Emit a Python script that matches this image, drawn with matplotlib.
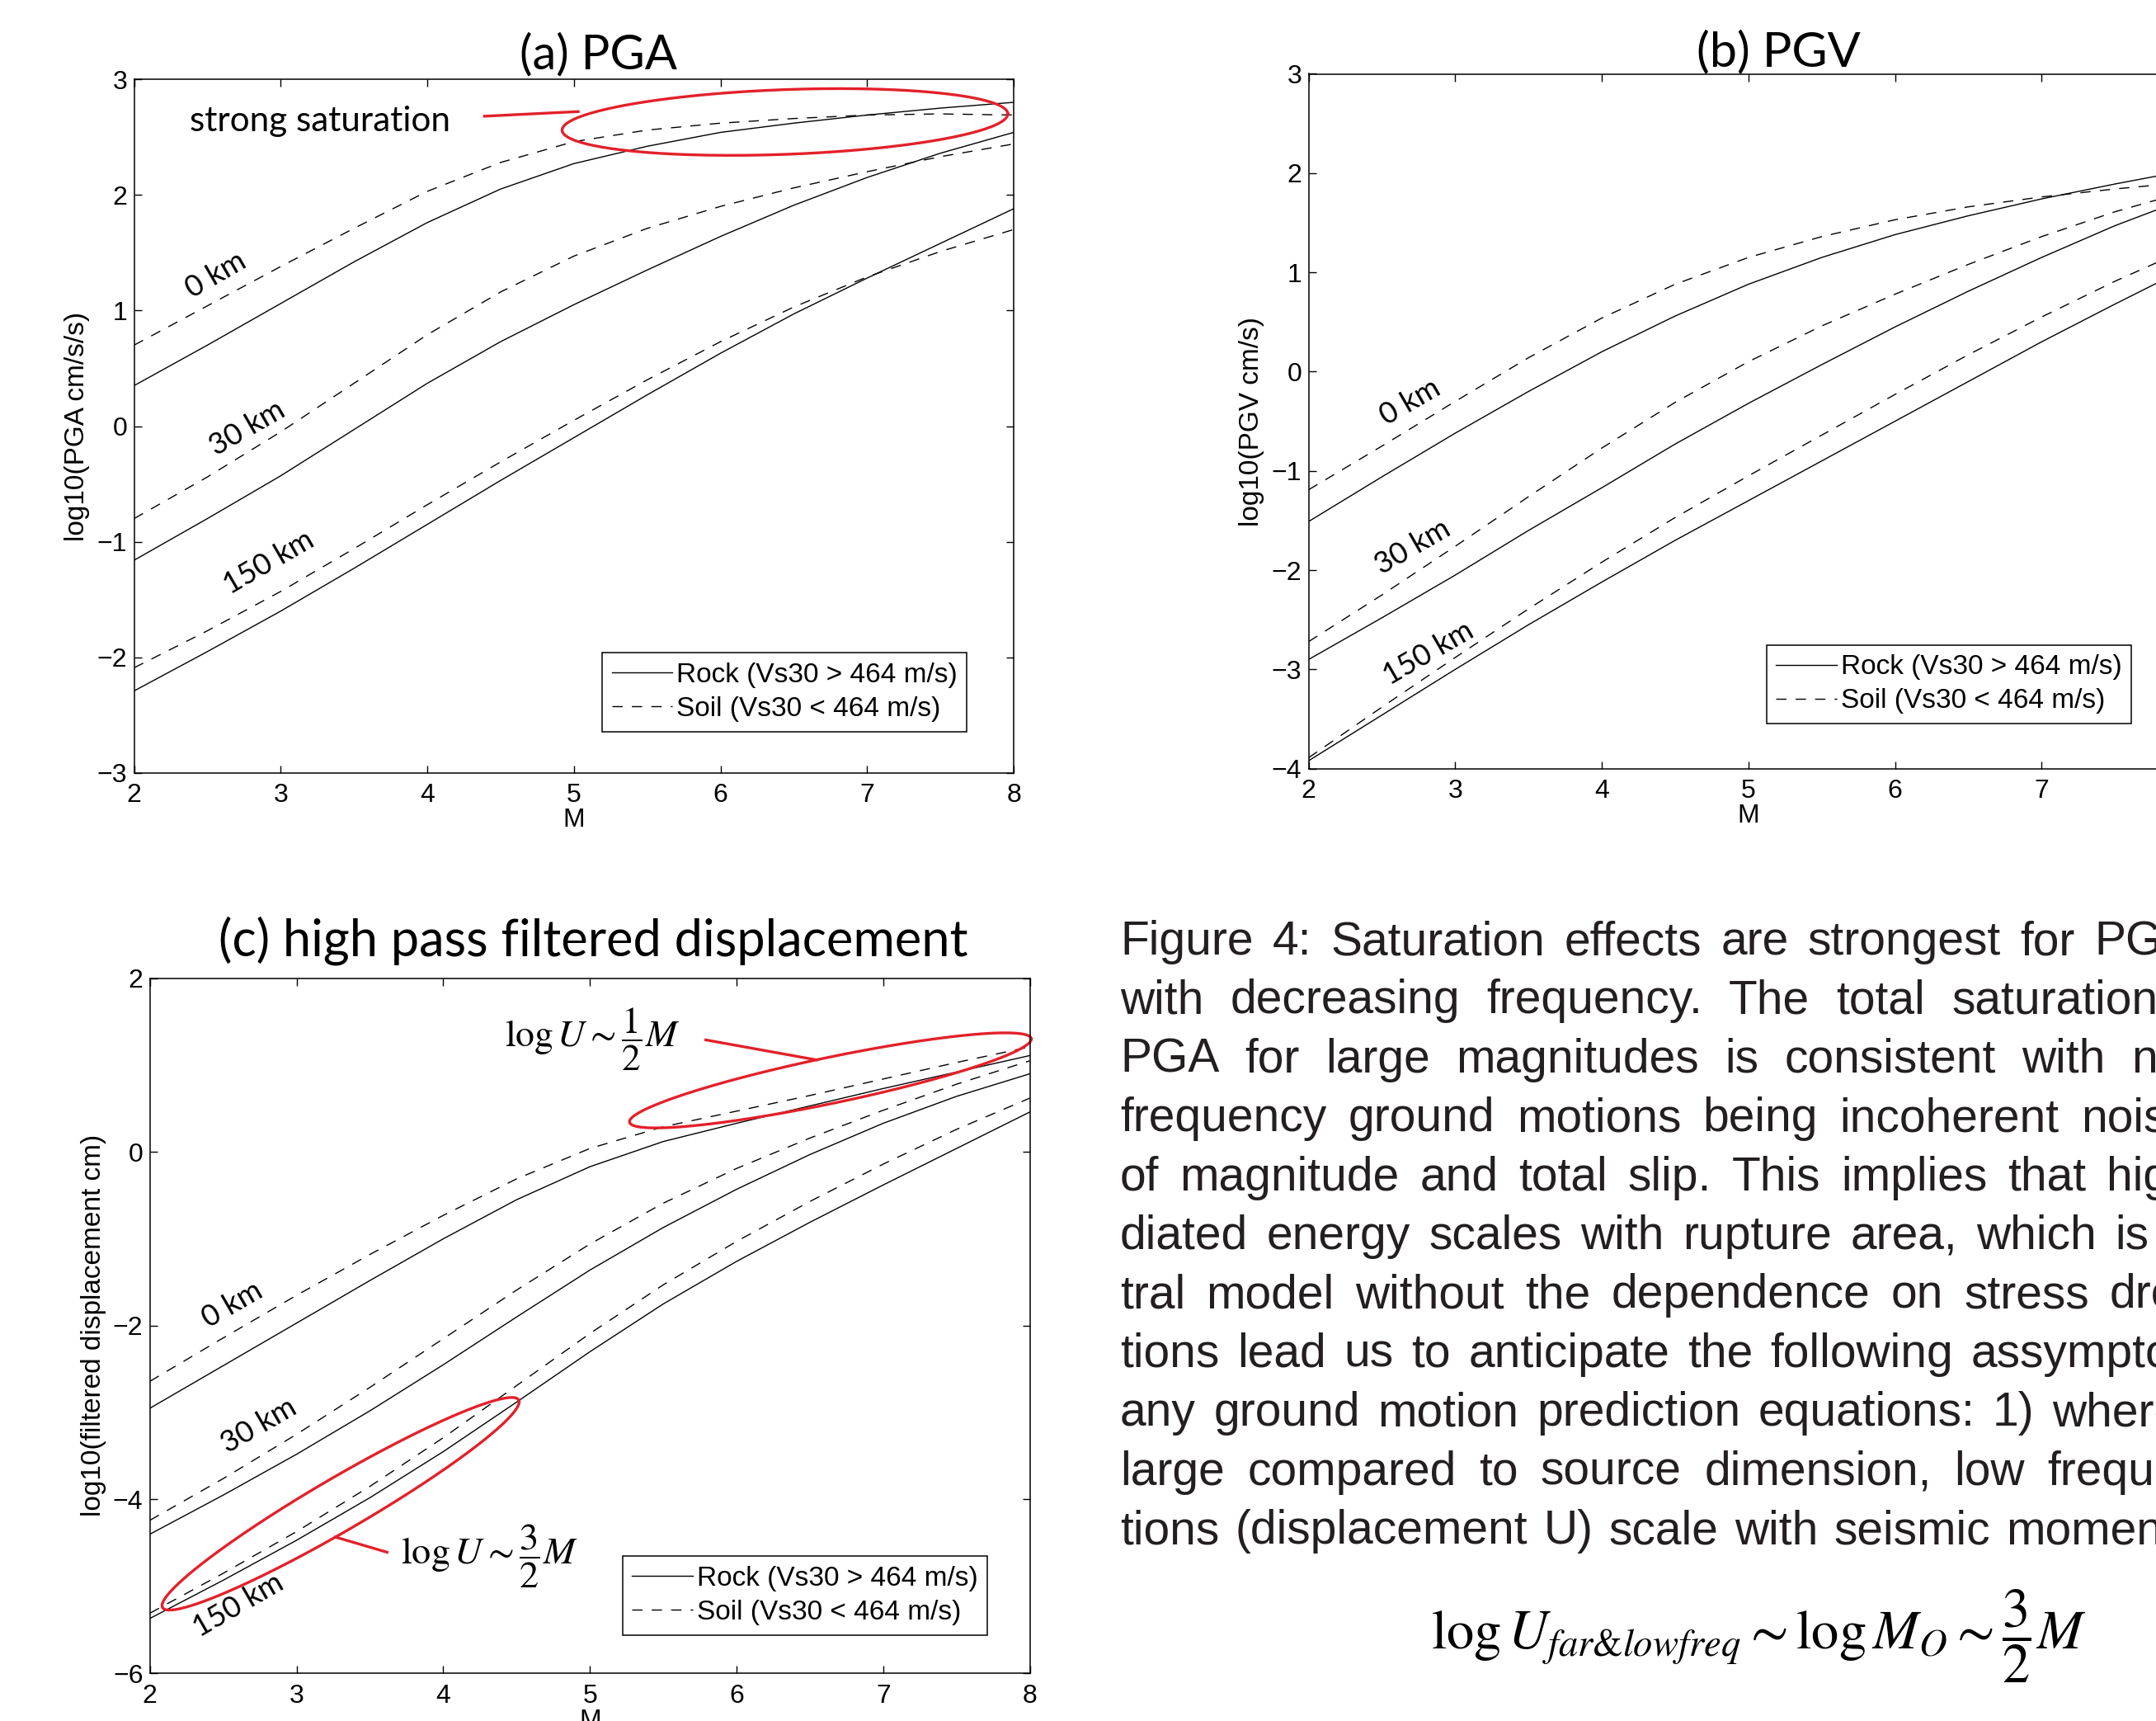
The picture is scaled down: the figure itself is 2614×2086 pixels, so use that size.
import numpy as np
import matplotlib
matplotlib.use('Agg')
import matplotlib.pyplot as plt

W, H = 2614, 2086
plt.rcParams['font.family'] = ['Liberation Sans', 'DejaVu Sans']
plt.rcParams['mathtext.fontset'] = 'stix'
plt.rcParams['lines.scale_dashes'] = False
plt.rcParams['axes.unicode_minus'] = True

# magnitudes sampled every half unit
MAGS = [2.0, 2.5, 3.0, 3.5, 4.0, 4.5, 5.0, 5.5, 6.0, 6.5, 7.0, 7.5, 8.0]
DIST_LABELS = ['0 km', '30 km', '150 km']
LEGEND_LABELS = ['Rock (Vs30 > 464 m/s)', 'Soil (Vs30 < 464 m/s)']

# (a) PGA, log10 cm/s/s
pga_rock_0 = [0.35, 0.70, 1.06, 1.42, 1.76, 2.05, 2.27, 2.42, 2.54, 2.62, 2.69, 2.75, 2.80]
pga_soil_0 = [0.70, 1.04, 1.38, 1.71, 2.03, 2.28, 2.46, 2.56, 2.62, 2.66, 2.69, 2.70, 2.69]
pga_rock_30 = [-1.16, -0.80, -0.43, -0.03, 0.37, 0.73, 1.05, 1.35, 1.64, 1.91, 2.15, 2.36, 2.54]
pga_soil_30 = [-0.80, -0.44, -0.05, 0.37, 0.79, 1.16, 1.47, 1.71, 1.90, 2.06, 2.20, 2.33, 2.44]
pga_rock_150 = [-2.29, -1.95, -1.60, -1.23, -0.85, -0.47, -0.10, 0.27, 0.63, 0.97, 1.28, 1.58, 1.88]
pga_soil_150 = [-2.09, -1.77, -1.43, -1.06, -0.68, -0.31, 0.05, 0.40, 0.73, 1.03, 1.29, 1.51, 1.70]

# (b) PGV, log10 cm/s
pgv_rock_0 = [-1.51, -1.06, -0.62, -0.20, 0.20, 0.56, 0.88, 1.15, 1.38, 1.57, 1.74, 1.89, 2.03]
pgv_soil_0 = [-1.19, -0.75, -0.30, 0.14, 0.54, 0.88, 1.15, 1.36, 1.53, 1.66, 1.76, 1.84, 1.91]
pgv_rock_30 = [-2.90, -2.48, -2.05, -1.60, -1.17, -0.73, -0.32, 0.07, 0.45, 0.81, 1.15, 1.47, 1.75]
pgv_soil_30 = [-2.72, -2.25, -1.76, -1.26, -0.77, -0.31, 0.10, 0.46, 0.78, 1.08, 1.36, 1.61, 1.82]
pgv_rock_150 = [-3.92, -3.46, -3.00, -2.55, -2.12, -1.70, -1.30, -0.90, -0.50, -0.10, 0.30, 0.68, 1.05]
pgv_soil_150 = [-3.89, -3.38, -2.88, -2.39, -1.92, -1.47, -1.05, -0.64, -0.23, 0.17, 0.55, 0.91, 1.24]

# (c) high pass filtered displacement, log10 cm
hpd_rock_0 = [-2.95, -2.46, -1.97, -1.48, -1.00, -0.55, -0.17, 0.12, 0.33, 0.53, 0.73, 0.92, 1.11]
hpd_soil_0 = [-2.64, -2.14, -1.65, -1.18, -0.73, -0.31, 0.04, 0.29, 0.47, 0.65, 0.84, 1.03, 1.21]
hpd_rock_30 = [-4.40, -3.95, -3.48, -2.98, -2.45, -1.90, -1.36, -0.87, -0.43, -0.03, 0.33, 0.64, 0.90]
hpd_soil_30 = [-4.24, -3.76, -3.25, -2.71, -2.15, -1.59, -1.06, -0.59, -0.19, 0.16, 0.48, 0.78, 1.05]
hpd_rock_150 = [-5.37, -4.93, -4.47, -3.98, -3.45, -2.88, -2.30, -1.75, -1.26, -0.81, -0.38, 0.04, 0.46]
hpd_soil_150 = [-5.31, -4.85, -4.37, -3.85, -3.29, -2.69, -2.09, -1.53, -1.03, -0.57, -0.14, 0.26, 0.62]

BODY_LINES = [
    'Figure 4: Saturation effects are strongest for PGA',
    'with decreasing frequency.  The total saturation',
    'PGA for large magnitudes is consistent with n',
    'frequency ground motions being incoherent noise',
    'of magnitude and total slip.  This implies that high',
    'diated energy scales with rupture area, which is',
    'tral model without the dependence on stress drop',
    'tions lead us to anticipate the following assymptotic',
    'any ground motion prediction equations: 1) where',
    'large compared to source dimension, low frequency',
    'tions (displacement U) scale with seismic moment',
]
# pixel x where the last word of each justified line starts
BODY_LAST_X = [2539, 2366, 2584, 2523, 2554, 2564, 2558, 2390, 2488, 2482, 2432]

RED = '#e3202a'
TITLE_FONT = ['Lato', 'DejaVu Sans']

fig = plt.figure(figsize=(W / 100, H / 100), dpi=100)
renderer = fig.canvas.get_renderer()


def px_axes(left, top, right, bottom):
    return fig.add_axes([left / W, 1 - bottom / H, (right - left) / W, (bottom - top) / H])


def fit_width(t, target):
    w = t.get_window_extent(renderer).width
    t.set_fontsize(t.get_fontsize() * target / w)


def make_panel(ax, rock, soil, ylim, ylabel, label_pos, leg_anchor):
    for r, s in zip(rock, soil):
        hr, = ax.plot(MAGS, r, color='k', lw=1.0)
        hs, = ax.plot(MAGS, s, color='k', lw=1.0, dashes=(9, 8))
    for txt, (x, y) in zip(DIST_LABELS, label_pos):
        ax.text(x, y, txt, fontsize=26, family=TITLE_FONT, rotation=30,
                rotation_mode='anchor', ha='center', va='center')
    ax.set_xlim(2, 8)
    ax.set_ylim(*ylim)
    ax.set_xticks(range(2, 9))
    ax.set_yticks(range(ylim[0], ylim[1] + 1, 1 if ylim[1] - ylim[0] < 8 else 2))
    ax.tick_params(direction='in', length=6.5, width=1.0, top=True, right=True, labelsize=23)
    ax.tick_params(axis='x', pad=9)
    ax.tick_params(axis='y', pad=6)
    for s in ax.spines.values():
        s.set_linewidth(1.1)
    ax.set_xlabel('M', fontsize=23, labelpad=0)
    ax.set_ylabel(ylabel, fontsize=24, labelpad=6)
    leg = ax.legend([hr, hs], LEGEND_LABELS, loc='lower left', bbox_to_anchor=leg_anchor,
                    fontsize=24, frameon=True, fancybox=False, edgecolor='k', framealpha=1,
                    handlelength=2.2, handletextpad=0.15, borderpad=0.35, labelspacing=0.3,
                    borderaxespad=0)
    leg.get_frame().set_linewidth(1.1)


def red_ellipse(ax, center, a, b):
    t = np.linspace(0, 2 * np.pi, 300)
    x = center[0] + a[0] * np.cos(t) + b[0] * np.sin(t)
    y = center[1] + a[1] * np.cos(t) + b[1] * np.sin(t)
    ax.plot(x, y, color=RED, lw=2.4, clip_on=False)


# (a) PGA
ax_a = px_axes(162.5, 96, 1229, 937)
make_panel(ax_a, [pga_rock_0, pga_rock_30, pga_rock_150], [pga_soil_0, pga_soil_30, pga_soil_150],
           (-3, 3), 'log10(PGA cm/s/s)', [(2.56, 1.31), (2.77, -0.02), (2.92, -1.18)], (0.532, 0.060))
red_ellipse(ax_a, (6.44, 2.63), (1.52, 0.07), (0.0, 0.28))
ax_a.plot([4.39, 5.03], [2.68, 2.72], color=RED, lw=2.4)
t = ax_a.text(2.38, 2.55, 'strong saturation', family=TITLE_FONT, fontsize=28, va='baseline')
fit_width(t, 317)

# (b) PGV
ax_b = px_axes(1586.6, 89.5, 2653, 931.7)
make_panel(ax_b, [pgv_rock_0, pgv_rock_30, pgv_rock_150], [pgv_soil_0, pgv_soil_30, pgv_soil_150],
           (-4, 3), 'log10(PGV cm/s)', [(2.69, -0.31), (2.71, -1.77), (2.82, -2.84)], (0.5205, 0.065))

# (c) high pass filtered displacement
ax_c = px_axes(181.8, 1185.7, 1248.6, 2028)
make_panel(ax_c, [hpd_rock_0, hpd_rock_30, hpd_rock_150], [hpd_soil_0, hpd_soil_30, hpd_soil_150],
           (-6, 2), 'log10(filtered displacement cm)', [(2.56, -1.76), (2.74, -3.15), (2.60, -5.22)],
           (0.537, 0.055))
red_ellipse(ax_c, (6.64, 0.824), (1.37, 0.476), (0.0, 0.27))
red_ellipse(ax_c, (3.30, -4.05), (1.2175, 1.1725), (0.0, 0.35))
ax_c.plot([5.79, 6.545], [1.29, 1.06], color=RED, lw=2.4)
ax_c.plot([3.617, 3.264], [-4.608, -4.433], color=RED, lw=2.4)
t = ax_c.text(4.42, 1.295, r'$\log U \sim \dfrac{1}{2}M$', fontsize=30, va='center')
fit_width(t, 212)
t = ax_c.text(3.71, -4.65, r'$\log U \sim \dfrac{3}{2}M$', fontsize=30, va='center')
fit_width(t, 215)

# panel titles
for label, cx, base, width in [('(a) PGA', 726, 83, 191), ('(b) PGV', 2156, 80, 199),
                               ('(c) high pass filtered displacement', 719, 1158, 908)]:
    t = fig.text(cx / W, 1 - base / H, label, family=TITLE_FONT, fontsize=40,
                 ha='center', va='baseline')
    fit_width(t, width)

# caption text, justified lines cut by the right edge
BODY_X0, BODY_Y0, BODY_DY = 1358, 1157, 71.4
for i, (line, last_x) in enumerate(zip(BODY_LINES, BODY_LAST_X)):
    words = line.split()
    y = 1 - (BODY_Y0 + i * BODY_DY) / H
    texts = [fig.text(0, y, w, fontsize=41, va='baseline', color='#231f20') for w in words]
    widths = [tt.get_window_extent(renderer).width for tt in texts]
    gap = (last_x - BODY_X0 - sum(widths[:-1])) / (len(words) - 1)
    x = BODY_X0
    for tt, w in zip(texts, widths):
        tt.set_x(x / W)
        x += w + gap

t = fig.text(1735 / W, 1 - 1999 / H,
             r'$\log U_{far&lowfreq} \sim \log M_O \sim \dfrac{3}{2}M$',
             fontsize=44, va='baseline')
fit_width(t, 795)

fig.savefig('out.png', dpi=100)
